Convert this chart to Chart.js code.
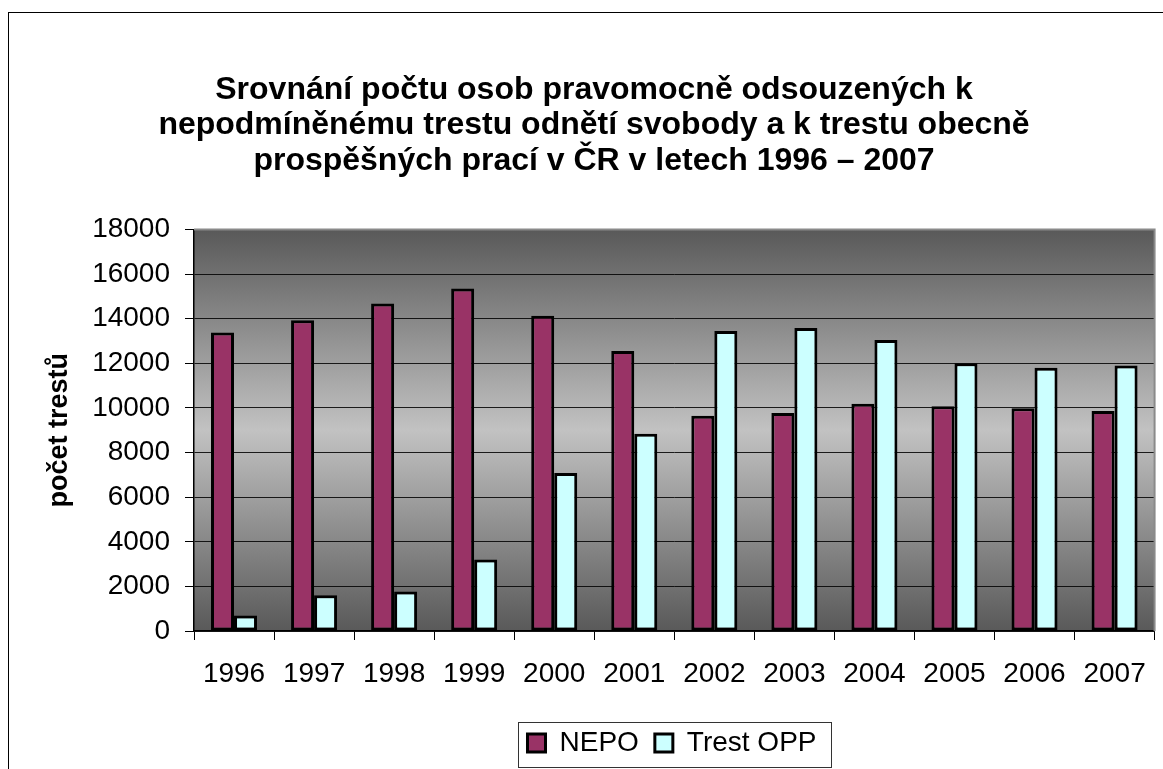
<!DOCTYPE html>
<html>
<head>
<meta charset="utf-8">
<script src="https://cdn.jsdelivr.net/npm/chart.js@4.4.1/dist/chart.umd.min.js"></script>
<style>
    html, body { margin: 0; padding: 0; background: #fff; overflow: hidden; }
    #wrap { width: 1163px; height: 769px; }
</style>
</head>
<body>
<div id="wrap"><canvas id="trestChart" width="1163" height="769"></canvas></div>
<script>
// Data
const years = ['1996', '1997', '1998', '1999', '2000', '2001', '2002', '2003', '2004', '2005', '2006', '2007'];
const nepoValues = [13380, 13930, 14680, 15360, 14130, 12550, 9650, 9780, 10190, 10080, 9990, 9870];
const oppValues = [700, 1600, 1770, 3210, 7090, 8840, 13450, 13590, 13050, 12000, 11800, 11910];
const seriesNames = ['NEPO', 'Trest OPP'];
const titleLines = [
    'Srovnání počtu osob pravomocně odsouzených k',
    'nepodmíněnému trestu odnětí svobody a k trestu obecně',
    'prospěšných prací v ČR v letech 1996 – 2007'
];
const yAxisTitle = 'počet trestů';
const yMax = 18000;
const yStep = 2000;

const fontFamily = "'Liberation Sans', Arial, sans-serif";

// Plot background gradient, frame and legend border
const decorPlugin = {
    id: 'decor',
    afterLayout(chart) {
        // Excel put the legend right of centre
        chart.legend.left += 78;
        chart.legend.right += 78;
    },
    beforeDraw(chart) {
        const { ctx, chartArea } = chart;
        const g = ctx.createLinearGradient(0, chartArea.top, 0, chartArea.bottom);
        g.addColorStop(0, '#595959');
        g.addColorStop(0.5, '#c2c2c2');
        g.addColorStop(1, '#595959');
        ctx.save();
        ctx.fillStyle = g;
        ctx.fillRect(chartArea.left, chartArea.top, chartArea.right - chartArea.left, chartArea.bottom - chartArea.top);
        ctx.restore();
    },
    afterDraw(chart) {
        const { ctx, chartArea } = chart;
        ctx.save();
        // plot area border (top and right)
        ctx.strokeStyle = '#8a8a8a';
        ctx.lineWidth = 2;
        ctx.beginPath();
        ctx.moveTo(chartArea.left, chartArea.top);
        ctx.lineTo(chartArea.right, chartArea.top);
        ctx.lineTo(chartArea.right, chartArea.bottom);
        ctx.stroke();

        // outer frame
        ctx.strokeStyle = '#000';
        ctx.lineWidth = 1;
        ctx.strokeRect(8.5, 12.5, 2000, 2000);

        // legend frame
        const boxes = chart.legend.legendHitBoxes;
        if (boxes && boxes.length) {
            const first = boxes[0];
            const last = boxes[boxes.length - 1];
            const left = first.left - 9;
            const right = last.left + last.width + 15;
            const top = first.top - 7;
            const bottom = first.top + 38;
            ctx.strokeStyle = '#333';
            ctx.lineWidth = 1;
            ctx.strokeRect(Math.round(left) + 0.5, Math.round(top) + 0.5, Math.round(right - left), Math.round(bottom - top));
        }
        ctx.restore();
    }
};

const ctx = document.getElementById('trestChart').getContext('2d');

new Chart(ctx, {
    type: 'bar',
    data: {
        labels: years,
        datasets: [
            {
                label: seriesNames[0],
                data: nepoValues,
                backgroundColor: '#993366',
                borderColor: '#000',
                borderWidth: 3,
                borderSkipped: false,
                categoryPercentage: 0.575,
                barPercentage: 1
            },
            {
                label: seriesNames[1],
                data: oppValues,
                backgroundColor: '#ccffff',
                borderColor: '#000',
                borderWidth: 3,
                borderSkipped: false,
                categoryPercentage: 0.575,
                barPercentage: 1
            }
        ]
    },
    options: {
        responsive: false,
        animation: false,
        layout: {
            padding: { left: 32, right: 7, top: 0, bottom: 2 }
        },
        plugins: {
            title: {
                display: true,
                text: titleLines,
                color: '#000',
                font: { family: fontFamily, size: 32, weight: 'bold', lineHeight: 1.11 },
                padding: { top: 72, bottom: 51 }
            },
            legend: {
                display: true,
                position: 'bottom',
                labels: {
                    color: '#000',
                    boxWidth: 18,
                    boxHeight: 18,
                    padding: 16,
                    font: { family: fontFamily, size: 28 }
                }
            },
            tooltip: { enabled: false }
        },
        scales: {
            x: {
                grid: {
                    offset: true,
                    drawOnChartArea: false,
                    drawTicks: true,
                    tickLength: 9,
                    tickColor: '#000'
                },
                border: { color: '#000', width: 1.5 },
                ticks: {
                    color: '#000',
                    padding: 17,
                    maxRotation: 0,
                    font: { family: fontFamily, size: 28 }
                },
                afterFit(scale) {
                    scale.height = 82;
                }
            },
            y: {
                min: 0,
                max: yMax,
                grid: {
                    color: (c) => (c.tick && c.tick.value === yMax) ? 'rgba(0,0,0,0)' : 'rgba(0,0,0,0.85)',
                    lineWidth: 1,
                    drawTicks: true,
                    tickLength: 9,
                    tickColor: '#000'
                },
                border: { color: '#000', width: 1.5 },
                ticks: {
                    stepSize: yStep,
                    color: '#000',
                    padding: 15,
                    font: { family: fontFamily, size: 28 },
                    callback: (value) => String(value)
                },
                title: {
                    display: true,
                    text: yAxisTitle,
                    color: '#000',
                    font: { family: fontFamily, size: 27, weight: 'bold' },
                    padding: { top: 11, bottom: 0 }
                },
                afterFit(scale) {
                    scale.width = 162;
                }
            }
        }
    },
    plugins: [decorPlugin]
});
</script>
</body>
</html>
